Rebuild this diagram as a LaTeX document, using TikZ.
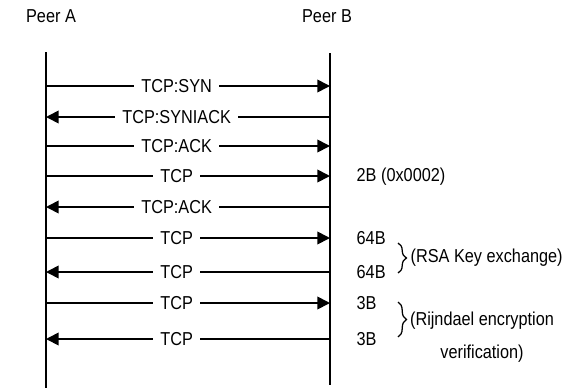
\documentclass[tikz,border=0pt]{standalone}
\usepackage{fontspec}
\setmainfont{Liberation Sans}[FakeStretch=0.87]
\usetikzlibrary{arrows.meta, decorations.pathreplacing}

\begin{document}
\begin{tikzpicture}[x=0.025cm, y=-0.025cm,
        every node/.style={font=\fontsize{13.3}{15}\selectfont, inner sep=1pt},
        msg/.style={line width=1.2pt, -{Triangle[length=9pt, width=9pt]}},
        lbl/.style={fill=white, inner xsep=5pt, inner ysep=1pt},
        bracket/.style={line width=0.9pt, decorate, decoration={brace, amplitude=6pt}}]
        \useasboundingbox (0,0) rectangle (582,388);
        \node (pa) at (51,16) {Peer A}; \node (pb) at (327,16) {Peer B};
        \coordinate (Atop) at (46,52); \coordinate (Abot) at (46,388);
        \coordinate (Btop) at (330,53); \coordinate (Bbot) at (330,385);
        \draw[line width=0.9pt] (Atop) -- (Abot); \draw[line width=0.9pt] (Btop) -- (Bbot);
        \foreach \y/\txt/\s/\e/\p [count=\i] in {86/TCP:SYN/a/b/0.46, 117/TCP:SYNIACK/b/a/0.54,
            146/TCP:ACK/a/b/0.46, 176/TCP/a/b/0.46, 207/TCP:ACK/b/a/0.54, 238/TCP/a/b/0.46,
            272/TCP/b/a/0.54, 303/TCP/a/b/0.46, 339/TCP/b/a/0.54}
            {
            \coordinate (a\i) at (46,\y); \coordinate (b\i) at (330,\y);
            \draw[msg] (\s\i) -- node[pos=\p, lbl] (m\i) {\txt} (\e\i);
            }
        \node[anchor=west] (sz4) at (355,177) {2B (0x0002)};
        \node[anchor=west] (sz6) at (355,238) {64B};
        \node[anchor=west] (sz7) at (355,272) {64B};
        \node[anchor=west] (sz8) at (355,303) {3B};
        \node[anchor=west] (sz9) at (355,339) {3B};
        \coordinate (rsaT) at (398,243); \coordinate (rsaB) at (398,273);
        \coordinate (rijT) at (398,302); \coordinate (rijB) at (398,337);
        \draw[bracket] (rsaT) -- (rsaB);
        \draw[bracket] (rijT) -- (rijB);
        \node[anchor=west] (rsa) at (409,258) {(RSA Key exchange)};
        \node[align=center, font=\fontsize{13.3}{23}\selectfont] (rij) at (482,337)
            {(Rijndael encryption\\verification)};
    \end{tikzpicture}
\end{document}
